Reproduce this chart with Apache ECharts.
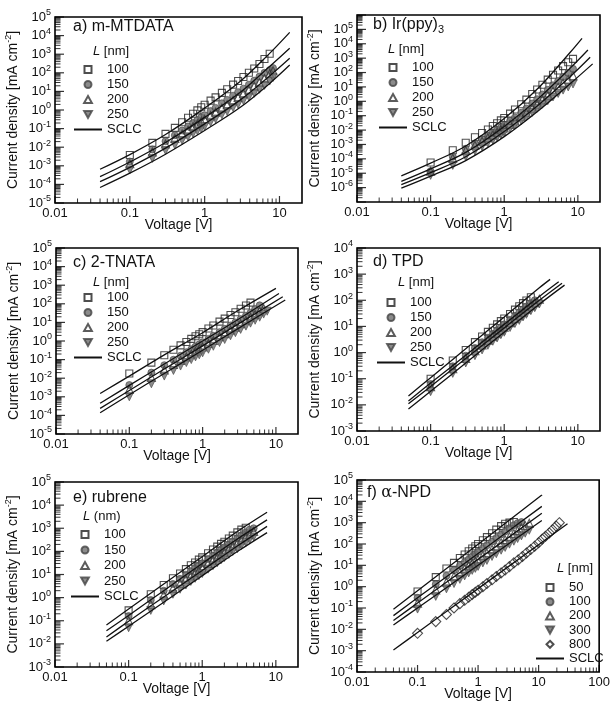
<!DOCTYPE html>
<html>
<head>
<meta charset="utf-8">
<script src="https://cdn.jsdelivr.net/npm/echarts@6/dist/echarts.min.js"></script>
<style>
  html, body { margin: 0; padding: 0; background: #fff; }
  #main { width: 613px; height: 709px; }
</style>
</head>
<body>
<div id="main"></div>
<script>
// tick labels
const xTicks20 = [0.01, 0.1, 1, 10];
const xTicks100 = [0.01, 0.1, 1, 10, 100];
const yTicksA = [1e-5, 1e-4, 1e-3, 1e-2, 1e-1, 1, 1e1, 1e2, 1e3, 1e4, 1e5];
const yTicksB = [1e-7, 1e-6, 1e-5, 1e-4, 1e-3, 1e-2, 1e-1, 1, 1e1, 1e2, 1e3, 1e4, 1e5, 1e6];
const yTicksD = [1e-3, 1e-2, 1e-1, 1, 1e1, 1e2, 1e3, 1e4];
const yTicksE = [1e-3, 1e-2, 1e-1, 1, 1e1, 1e2, 1e3, 1e4, 1e5];
const yTicksF = [1e-4, 1e-3, 1e-2, 1e-1, 1, 1e1, 1e2, 1e3, 1e4, 1e5];

// a) m-MTDATA  (voltage in V, current density in mA cm^-2)
const voltsA = [0.1, 0.2, 0.3, 0.4, 0.5, 0.6, 0.7, 0.8, 0.9, 1.0, 1.2, 1.4, 1.7, 2.0, 2.4, 2.8, 3.3, 3.9, 4.6, 5.4, 6.3, 7.4, 8.2];
const jA100 = [3.8e-3, 1.7e-2, 5.2e-2, 0.11, 0.22, 0.38, 0.63, 0.95, 1.4, 1.9, 3.2, 4.8, 8.3, 13, 23, 36, 60, 100, 170, 300, 550, 1050, null];
const jA150 = [1.7e-3, 7.6e-3, 2.1e-2, 4.4e-2, 7.9e-2, 0.13, 0.2, 0.29, 0.4, 0.52, 0.87, 1.3, 2.3, 3.5, 5.9, 9.1, 14, 23, 38, 63, 100, 140, 180];
const jA200 = [1.3e-3, 5.6e-3, 1.5e-2, 3.0e-2, 5.2e-2, 8.3e-2, 0.13, 0.18, 0.24, 0.32, 0.5, 0.76, 1.26, 1.9, 3.2, 4.8, 7.6, 12, 19, 30, 50, 89, 130];
const jA250 = [6.0e-4, 2.5e-3, 6.6e-3, 1.3e-2, 2.3e-2, 3.6e-2, 5.4e-2, 7.6e-2, 0.1, 0.13, 0.22, 0.33, 0.55, 0.83, 1.35, 2.0, 3.2, 5.0, 7.9, 13, 21, 36, 56];
const sclcVoltsA = [0.04, 0.1, 0.3, 1, 3, 7, 13.7];
const sclcA100 = [6.5e-4, 4.0e-3, 4.8e-2, 1.26, 35, 890, 1.5e4];
const sclcA150 = [2.6e-4, 1.6e-3, 1.8e-2, 0.4, 8.9, 180, 2.1e3];
const sclcA200 = [1.4e-4, 8.3e-4, 8.9e-3, 0.18, 3.5, 56, 600];
const sclcA250 = [6.8e-5, 4.0e-4, 4.2e-3, 7.9e-2, 1.4, 22, 260];

// b) Ir(ppy)3
const voltsB = [0.1, 0.2, 0.3, 0.4, 0.5, 0.6, 0.7, 0.8, 0.9, 1.0, 1.2, 1.4, 1.7, 2.0, 2.4, 2.8, 3.3, 3.9, 4.6, 5.4, 6.3, 7.4, 8.6];
const jB100 = [5.6e-5, 4.0e-4, 1.3e-3, 3.2e-3, 6.3e-3, 1.1e-2, 1.9e-2, 3.0e-2, 4.7e-2, 6.9e-2, 0.14, 0.27, 0.63, 1.3, 3.2, 6.6, 14, 32, 71, 140, 280, 520, 890];
const jB150 = [1.4e-5, 1.4e-4, 5.0e-4, 1.2e-3, 2.4e-3, 4.2e-3, 6.8e-3, 1.0e-2, 1.5e-2, 2.2e-2, 4.3e-2, 7.6e-2, 0.16, 0.32, 0.71, 1.4, 3.0, 6.3, 13, 26, 50, 95, 180];
const jB200 = [1.4e-5, 1.1e-4, 3.8e-4, 8.9e-4, 1.7e-3, 2.9e-3, 4.6e-3, 6.9e-3, 1.0e-2, 1.4e-2, 2.5e-2, 4.3e-2, 8.5e-2, 0.16, 0.33, 0.63, 1.26, 2.5, 5.0, 9.5, 18, 33, 60];
const jB250 = [7.1e-6, 3.5e-5, 1.4e-4, 3.5e-4, 7.1e-4, 1.3e-3, 2.0e-3, 3.2e-3, 4.7e-3, 6.6e-3, 1.3e-2, 2.2e-2, 4.5e-2, 8.3e-2, 0.17, 0.33, 0.63, 1.1, 2.0, 3.5, 6.0, 10, 16];
const sclcVoltsB100 = [0.04, 0.1, 0.3, 1, 3, 8, 11.4];
const sclcVoltsB150 = [0.04, 0.1, 0.3, 1, 3, 8, 13.7];
const sclcVoltsB200 = [0.04, 0.1, 0.3, 1, 3, 8, 14.7];
const sclcVoltsB250 = [0.04, 0.1, 0.3, 1, 3, 8, 15.9];
const sclcB100 = [6.6e-6, 5.0e-5, 7.9e-4, 6.3e-2, 10, 2800, 2.4e4];
const sclcB150 = [2.7e-6, 2.0e-5, 2.8e-4, 1.8e-2, 1.8, 220, 3700];
const sclcB200 = [1.6e-6, 1.1e-5, 1.4e-4, 7.9e-3, 0.63, 56, 1150];
const sclcB250 = [9.1e-7, 6.3e-6, 7.6e-5, 3.5e-3, 0.25, 18, 400];

// c) 2-TNATA
const voltsC = [0.1, 0.2, 0.3, 0.4, 0.5, 0.6, 0.7, 0.8, 0.9, 1.0, 1.2, 1.4, 1.7, 2.0, 2.4, 2.8, 3.3, 3.9, 4.5, 5.2, 6.0, 6.8, 7.6];
const jC100 = [1.8e-2, 6.9e-2, 0.17, 0.34, 0.58, 0.89, 1.3, 1.8, 2.3, 3.0, 4.7, 6.8, 11, 16, 25, 35, 54, 81, 115, null, null, null, null];
const jC150 = [4.3e-3, 2.0e-2, 5.0e-2, 9.8e-2, 0.16, 0.25, 0.36, 0.5, 0.66, 0.85, 1.3, 1.9, 3.0, 4.5, 6.9, 10, 15, 23, 33, 52, 83, null, null];
const jC200 = [2.5e-3, 1.1e-2, 2.8e-2, 5.5e-2, 9.1e-2, 0.14, 0.2, 0.28, 0.37, 0.48, 0.74, 1.07, 1.7, 2.5, 3.9, 5.6, 8.5, 13, 19, 27, 40, 56, null];
const jC250 = [1.0e-3, 5.0e-3, 1.3e-2, 2.6e-2, 4.5e-2, 6.9e-2, 0.1, 0.14, 0.18, 0.23, 0.36, 0.52, 0.83, 1.2, 1.9, 2.8, 4.2, 6.3, 9.1, 13, 19, 28, 40];
const sclcVoltsC100 = [0.04, 0.1, 0.3, 1, 3, 10];
const sclcVoltsC150 = [0.04, 0.1, 0.3, 1, 3, 11];
const sclcVoltsC200 = [0.04, 0.1, 0.3, 1, 3, 12.4];
const sclcVoltsC250 = [0.04, 0.1, 0.3, 1, 3, 13.4];
const sclcC100 = [1.5e-3, 1.3e-2, 0.18, 2.8, 42, 680];
const sclcC150 = [4.5e-4, 4.1e-3, 5.8e-2, 1.0, 14, 360];
const sclcC200 = [2.4e-4, 2.2e-3, 3.1e-2, 0.55, 7.8, 240];
const sclcC250 = [1.4e-4, 1.3e-3, 1.8e-2, 0.32, 4.5, 160];

// d) TPD
const voltsD = [0.1, 0.2, 0.3, 0.4, 0.5, 0.6, 0.7, 0.8, 0.9, 1.0, 1.2, 1.4, 1.6, 1.8, 2.0, 2.3, 2.6, 3.0];
const jD100 = [0.1, 0.5, 1.26, 2.5, 4.1, 6.2, 8.9, 12, 16, 20, 30, 44, 59, 78, 98, 130, null, null];
const jD150 = [6.3e-2, 0.3, 0.76, 1.5, 2.5, 3.7, 5.2, 7.1, 9.3, 12, 18, 25, 34, 45, 58, 78, 100, null];
const jD200 = [5.0e-2, 0.24, 0.6, 1.17, 1.95, 2.95, 4.2, 5.6, 7.4, 9.3, 14, 20, 27, 35, 46, 62, 81, 110];
const jD250 = [3.2e-2, 0.16, 0.4, 0.76, 1.26, 1.9, 2.7, 3.6, 4.8, 6.0, 9.1, 13, 17, 23, 29, 40, 52, 72];
const sclcVoltsD100 = [0.05, 0.1, 0.3, 1, 3, 4.2];
const sclcVoltsD150 = [0.05, 0.1, 0.3, 1, 3, 5.5];
const sclcVoltsD200 = [0.05, 0.1, 0.3, 1, 3, 6.1];
const sclcVoltsD250 = [0.05, 0.1, 0.3, 1, 3, 6.6];
const sclcD100 = [2.2e-2, 0.11, 1.4, 23, 300, 630];
const sclcD150 = [1.4e-2, 6.8e-2, 0.79, 12, 140, 510];
const sclcD200 = [1.1e-2, 5.0e-2, 0.59, 8.7, 100, 450];
const sclcD250 = [6.9e-3, 3.3e-2, 0.4, 6.0, 71, 380];

// e) rubrene
const voltsE = [0.1, 0.2, 0.3, 0.4, 0.5, 0.6, 0.7, 0.8, 0.9, 1.0, 1.2, 1.4, 1.6, 1.8, 2.0, 2.3, 2.6, 3.0, 3.4, 3.9, 4.4, 5.0];
const jE100 = [0.28, 1.4, 3.5, 6.9, 11, 17, 25, 33, 44, 55, 83, 120, 160, 210, 260, 360, 480, 660, 870, 1050, null, null];
const jE150 = [0.16, 0.79, 2.0, 3.9, 6.5, 9.8, 14, 19, 25, 31, 47, 66, 89, 120, 150, 200, 270, 370, 490, 660, 870, 1000];
const jE200 = [0.1, 0.5, 1.26, 2.5, 4.1, 6.2, 8.7, 12, 15, 19, 30, 42, 56, 74, 93, 130, 170, 230, 310, 420, 550, 720];
const jE250 = [5.0e-2, 0.28, 0.72, 1.4, 2.3, 3.5, 5.0, 6.8, 8.9, 11, 17, 24, 32, 43, 54, 74, 98, 130, 180, 240, 320, 420];
const sclcVoltsE = [0.05, 0.1, 0.3, 1, 3, 7.6];
const sclcE100 = [6.6e-2, 0.32, 3.9, 59, 720, 4900];
const sclcE150 = [3.7e-2, 0.17, 2.0, 30, 340, 2300];
const sclcE200 = [2.0e-2, 9.5e-2, 1.07, 15, 170, 1200];
const sclcE250 = [1.3e-2, 5.8e-2, 0.63, 8.9, 98, 650];

// f) alpha-NPD
const voltsF = [0.1, 0.2, 0.3, 0.4, 0.5, 0.6, 0.7, 0.8, 0.9, 1.0, 1.2, 1.4, 1.7, 2.0, 2.4, 2.8, 3.3, 3.9, 4.5, 5.2, 6.0, 7.0];
const jF50 = [0.59, 2.8, 7.1, 13, 22, 32, 46, 62, 79, 100, 150, 210, 320, 470, 690, 890, 1000, 1070, null, null, null, null];
const jF100 = [0.3, 1.3, 3.2, 5.9, 9.5, 14, 19, 26, 34, 43, 63, 87, 130, 190, 280, 390, 550, 760, 950, 1070, null, null];
const jF200 = [0.17, 0.71, 1.6, 3.0, 4.7, 6.8, 9.3, 12, 15, 19, 28, 38, 56, 79, 115, 160, 220, 310, 420, 560, 740, 930];
const jF300 = [8.9e-2, 0.35, 0.79, 1.4, 2.2, 3.2, 4.4, 5.8, 7.2, 8.9, 13, 17, 26, 35, 51, 69, 98, 135, 180, 240, 320, 440];
const voltsF800 = [0.1, 0.2, 0.3, 0.4, 0.5, 0.6, 0.7, 0.8, 0.9, 1.0, 1.2, 1.4, 1.7, 2.0, 2.4, 2.8, 3.3, 3.9, 4.6, 5.4, 6.3, 7.4, 8.6, 10, 11.5, 13, 15, 17, 19.5, 22];
const jF800 = [6.5e-3, 2.3e-2, 5.0e-2, 0.1, 0.16, 0.23, 0.32, 0.43, 0.55, 0.68, 1.0, 1.4, 2.1, 3.0, 4.4, 6.0, 8.7, 13, 18, 26, 38, 55, 79, 115, 170, 230, 330, 470, 690, 1000];
const sclcVoltsF = [0.04, 0.1, 1, 11.3];
const sclcF50 = [8.7e-2, 0.65, 98, 2.0e4];
const sclcF100 = [4.4e-2, 0.3, 36, 5800];
const sclcF200 = [2.6e-2, 0.17, 19, 2750];
const sclcF300 = [1.6e-2, 0.1, 10, 1260];
const sclcVoltsF800 = [0.04, 0.1, 1, 10, 30];
const sclcF800 = [1.07e-3, 7.1e-3, 0.81, 93, 890];

const fontFam = '"Liberation Sans", Arial, sans-serif';
const ink = '#111';

function marker(kind) {
  const hollow = 'rgba(255,255,255,0)';
  if (kind === 'sq') return { symbol: 'path://M0,0L10,0L10,10L0,10Z', symbolSize: 7, itemStyle: { color: hollow, borderColor: '#222', borderWidth: 1.1 } };
  if (kind === 'ci') return { symbol: 'circle', symbolSize: 7, itemStyle: { color: '#6e6e6e', borderColor: '#444', borderWidth: 0.8 } };
  if (kind === 'tr') return { symbol: 'path://M5,0L10,9L0,9Z', symbolSize: 8, itemStyle: { color: hollow, borderColor: '#333', borderWidth: 1.1 } };
  if (kind === 'iv') return { symbol: 'path://M0,0L10,0L5,9Z', symbolSize: 8, itemStyle: { color: '#6e6e6e', borderColor: '#444', borderWidth: 0.8 } };
  return { symbol: 'path://M5,0L10,5L5,10L0,5Z', symbolSize: 10, itemStyle: { color: hollow, borderColor: '#222', borderWidth: 1.1 } };
}

function minorTicks(majors, max) {
  const out = [];
  majors.forEach(m => {
    for (let k = 2; k <= 9; k++) {
      const v = Number((k * m).toPrecision(4));
      if (v < max) out.push(v);
    }
  });
  return out;
}

// inward tick marks: thin rect symbols placed on the axis edge through the panel's scales
function tickSeries(id, i, points, size, offset) {
  return {
    type: 'scatter', name: id + ':tick' + size.join('x'), xAxisIndex: i, yAxisIndex: i,
    data: points, symbol: 'rect', symbolSize: size, symbolOffset: offset,
    itemStyle: { color: '#000', borderWidth: 0 }, clip: false, z: 5,
    silent: true, emphasis: { disabled: true }
  };
}

const panels = [
  { id: 'a', title: 'a) m-MTDATA', header: '{i|L} [nm]',
    grid: { left: 55, top: 17, width: 247, height: 186 }, xTicks: xTicks20, xMax: 20, yTicks: yTicksA,
    titlePos: [73, 17], headerPos: [93, 45], legendPos: [73, 62], legendGap: 0,
    scatter: [['100', voltsA, jA100, 'sq'], ['150', voltsA, jA150, 'ci'], ['200', voltsA, jA200, 'tr'], ['250', voltsA, jA250, 'iv']],
    lines: [[sclcVoltsA, sclcA100], [sclcVoltsA, sclcA150], [sclcVoltsA, sclcA200], [sclcVoltsA, sclcA250]] },
  { id: 'b', title: 'b) Ir(ppy){sub|3}', header: '{i|L} [nm]',
    grid: { left: 357, top: 15, width: 243, height: 187 }, xTicks: xTicks20, xMax: 20, yTicks: yTicksB,
    titlePos: [373, 15], headerPos: [388, 43], legendPos: [378, 60], legendGap: 0,
    scatter: [['100', voltsB, jB100, 'sq'], ['150', voltsB, jB150, 'ci'], ['200', voltsB, jB200, 'tr'], ['250', voltsB, jB250, 'iv']],
    lines: [[sclcVoltsB100, sclcB100], [sclcVoltsB150, sclcB150], [sclcVoltsB200, sclcB200], [sclcVoltsB250, sclcB250]] },
  { id: 'c', title: 'c) 2-TNATA', header: '{i|L} [nm]',
    grid: { left: 56, top: 248, width: 242, height: 186 }, xTicks: xTicks20, xMax: 20, yTicks: yTicksA,
    titlePos: [73, 253], headerPos: [93, 276], legendPos: [73, 290], legendGap: 0,
    scatter: [['100', voltsC, jC100, 'sq'], ['150', voltsC, jC150, 'ci'], ['200', voltsC, jC200, 'tr'], ['250', voltsC, jC250, 'iv']],
    lines: [[sclcVoltsC100, sclcC100], [sclcVoltsC150, sclcC150], [sclcVoltsC200, sclcC200], [sclcVoltsC250, sclcC250]] },
  { id: 'd', title: 'd) TPD', header: '{i|L} [nm]',
    grid: { left: 357, top: 248, width: 243, height: 183 }, xTicks: xTicks20, xMax: 20, yTicks: yTicksD,
    titlePos: [373, 252], headerPos: [398, 276], legendPos: [376, 295], legendGap: 0,
    scatter: [['100', voltsD, jD100, 'sq'], ['150', voltsD, jD150, 'ci'], ['200', voltsD, jD200, 'tr'], ['250', voltsD, jD250, 'iv']],
    lines: [[sclcVoltsD100, sclcD100], [sclcVoltsD150, sclcD150], [sclcVoltsD200, sclcD200], [sclcVoltsD250, sclcD250]] },
  { id: 'e', title: 'e) rubrene', header: '{i|L} (nm)',
    grid: { left: 55, top: 482, width: 243, height: 185 }, xTicks: xTicks20, xMax: 20, yTicks: yTicksE,
    titlePos: [73, 488], headerPos: [83, 510], legendPos: [70, 527], legendGap: 0.5,
    scatter: [['100', voltsE, jE100, 'sq'], ['150', voltsE, jE150, 'ci'], ['200', voltsE, jE200, 'tr'], ['250', voltsE, jE250, 'iv']],
    lines: [[sclcVoltsE, sclcE100], [sclcVoltsE, sclcE150], [sclcVoltsE, sclcE200], [sclcVoltsE, sclcE250]] },
  { id: 'f', title: 'f) {g|α}-NPD', header: '{i|L} [nm]',
    grid: { left: 357, top: 480, width: 244, height: 192 }, xTicks: xTicks100, xMax: 100, yTicks: yTicksF,
    titlePos: [367, 483], headerPos: [557, 562], legendPos: [535, 580], legendGap: -0.8,
    scatter: [['50', voltsF, jF50, 'sq'], ['100', voltsF, jF100, 'ci'], ['200', voltsF, jF200, 'tr'], ['300', voltsF, jF300, 'iv'], ['800', voltsF800, jF800, 'di']],
    lines: [[sclcVoltsF, sclcF50], [sclcVoltsF, sclcF100], [sclcVoltsF, sclcF200], [sclcVoltsF, sclcF300], [sclcVoltsF800, sclcF800]] }
];

const grids = [], xAxes = [], yAxes = [], series = [], legends = [], titles = [];

panels.forEach((p, i) => {
  grids.push(Object.assign({}, p.grid, {
    show: true, borderColor: '#000', borderWidth: 1.6, backgroundColor: 'rgba(0,0,0,0)', containLabel: false
  }));
  const xMin = p.xTicks[0];
  const yMin = p.yTicks[0], yMax = p.yTicks[p.yTicks.length - 1];

  xAxes.push({
    type: 'log', logBase: 10, gridIndex: i, position: 'bottom', min: xMin, max: p.xMax,
    axisLine: { show: false }, splitLine: { show: false }, minorTick: { show: false }, axisTick: { show: false },
    axisLabel: { show: true, customValues: p.xTicks, formatter: v => String(v), margin: 4,
      fontSize: 13, color: ink, fontFamily: fontFam },
    name: 'Voltage [V]', nameLocation: 'middle', nameGap: 15, nameMoveOverlap: false,
    nameTextStyle: { fontSize: 14, color: ink, fontFamily: fontFam }
  });
  yAxes.push({
    type: 'log', logBase: 10, gridIndex: i, position: 'left', min: yMin, max: yMax,
    axisLine: { show: false }, splitLine: { show: false }, minorTick: { show: false }, axisTick: { show: false },
    axisLabel: { show: true, customValues: p.yTicks, margin: 4, fontSize: 13, color: ink, fontFamily: fontFam, lineHeight: 17,
      formatter: v => '10{sup|' + Math.round(Math.log10(v)) + '}',
      rich: { sup: { fontSize: 9, lineHeight: 9, verticalAlign: 'top', color: ink, fontFamily: fontFam } } },
    name: 'Current density [mA cm{sup|-2}]', nameLocation: 'middle', nameGap: 33, nameMoveOverlap: false,
    nameTextStyle: { fontSize: 14, color: ink, fontFamily: fontFam, lineHeight: 18,
      rich: { sup: { fontSize: 9, lineHeight: 9, verticalAlign: 'top', color: ink, fontFamily: fontFam } } }
  });

  p.scatter.forEach(([label, volts, vals, kind]) => {
    series.push(Object.assign({
      type: 'scatter', name: p.id + ':' + label, xAxisIndex: i, yAxisIndex: i,
      data: volts.map((v, k) => [v, vals[k]]).filter(d => d[1] != null),
      z: 2, silent: true, emphasis: { disabled: true }
    }, marker(kind)));
  });
  p.lines.forEach(([volts, vals], k) => {
    series.push({
      type: 'line', name: k === 0 ? p.id + ':SCLC' : p.id + ':SCLC' + k,
      xAxisIndex: i, yAxisIndex: i,
      data: volts.map((v, j) => [v, vals[j]]),
      symbol: 'none', smooth: 0.35, lineStyle: { color: ink, width: 1.3 },
      itemStyle: { color: 'rgba(0,0,0,0)' },
      z: 3, silent: true, emphasis: { disabled: true }
    });
  });

  // axis ticks (major long, minor short), pointing into the plot
  series.push(tickSeries(p.id, i, p.xTicks.map(v => [v, yMin]), [1.2, 7], [0, -3.5]));
  series.push(tickSeries(p.id, i, minorTicks(p.xTicks, p.xMax).map(v => [v, yMin]), [1, 4.5], [0, -2.25]));
  series.push(tickSeries(p.id, i, p.yTicks.map(v => [xMin, v]), [9, 1.2], [4.5, 0]));
  series.push(tickSeries(p.id, i, minorTicks(p.yTicks, yMax).map(v => [xMin, v]), [5.5, 1], [2.75, 0]));

  legends.push({
    left: p.legendPos[0], top: p.legendPos[1], orient: 'vertical', padding: 0,
    itemGap: p.legendGap, itemWidth: 28, itemHeight: 7, selectedMode: false, symbolKeepAspect: true,
    formatter: n => n.split(':')[1],
    textStyle: { fontSize: 13, color: ink, fontFamily: fontFam, lineHeight: 15 },
    data: p.scatter.map(s => p.id + ':' + s[0]).concat([p.id + ':SCLC'])
  });

  titles.push({
    text: p.title, left: p.titlePos[0], top: p.titlePos[1], padding: 0,
    textStyle: { fontSize: 16, fontWeight: 'normal', color: ink, fontFamily: fontFam, lineHeight: 20,
      rich: {
        sub: { fontSize: 11, lineHeight: 11, verticalAlign: 'bottom', color: ink, fontFamily: fontFam },
        g: { fontSize: 16, color: ink, fontFamily: 'DejaVu Serif' }
      } }
  });
  titles.push({
    text: p.header, left: p.headerPos[0], top: p.headerPos[1], padding: 0,
    textStyle: { fontSize: 13, fontWeight: 'normal', color: ink, fontFamily: fontFam,
      rich: { i: { fontSize: 13, fontStyle: 'italic', color: ink, fontFamily: fontFam } } }
  });
});

const chart = echarts.init(document.getElementById('main'), null, { renderer: 'canvas' });
chart.setOption({
  animation: false,
  backgroundColor: '#fff',
  textStyle: { fontFamily: fontFam },
  title: titles,
  legend: legends,
  grid: grids,
  xAxis: xAxes,
  yAxis: yAxes,
  series: series
});
</script>
</body>
</html>
